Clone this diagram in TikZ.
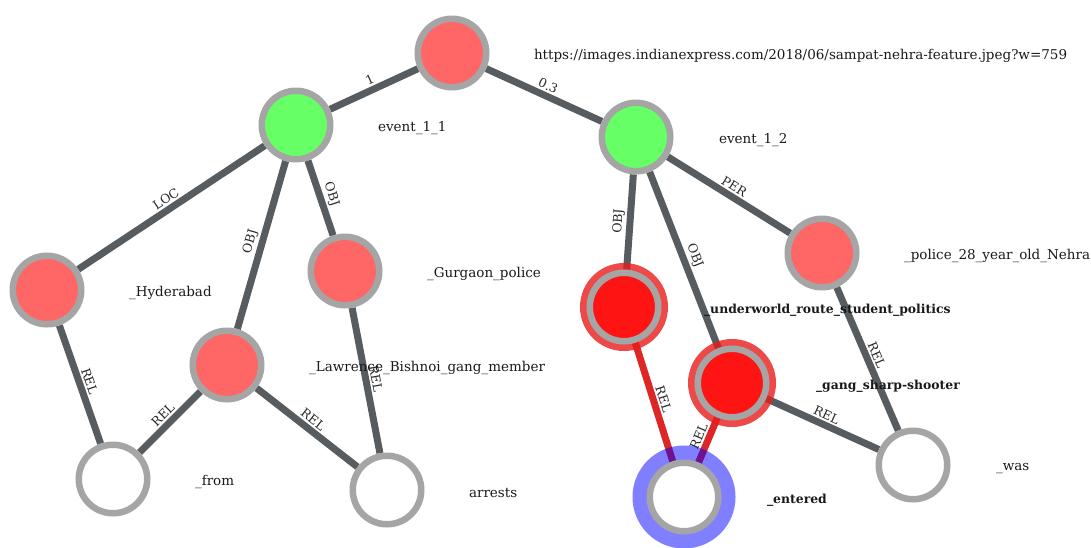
\documentclass[tikz,border=0pt]{standalone}
\usepackage{fontspec}
\setmainfont{DejaVu Serif}
\usepackage{tikz}
\usetikzlibrary{positioning, backgrounds}

\definecolor{edgegray}{HTML}{565C60}
\definecolor{ringgray}{HTML}{A5A5A5}
\definecolor{entpink}{HTML}{FF6666}
\definecolor{evgreen}{HTML}{66FF66}
\definecolor{hotred}{HTML}{FF1414}
\definecolor{ringred}{HTML}{E81C1C}
\definecolor{relred}{HTML}{DD2626}

\tikzset{
	ent/.style={circle, draw=ringgray, line width=6.5pt, minimum size=68.5pt, inner sep=0pt, fill=entpink},
	evt/.style={ent, fill=evgreen},
	tok/.style={ent, fill=white},
	focus/.style={ent, fill=hotred, preaction={draw=ringred, draw opacity=0.8, line width=19.5pt}},
	picked/.style={tok, preaction={draw=blue, draw opacity=0.5, line width=34.5pt}},
	edge/.style={draw=edgegray, line width=7pt},
	reledge/.style={draw=relred, line width=7pt},
	elabel/.style={above, sloped, midway, font={\fontsize{12.5}{13}\selectfont}, text=black!85, inner sep=2pt},
	txt/.style={font={\fontsize{13.5}{15}\selectfont}, text=black!90, yshift=-3pt},
	btxt/.style={txt, font={\fontsize{12.4}{15}\selectfont\bfseries}}
}

\begin{document}
\begin{tikzpicture}[x=1pt, y=-1pt]

	\useasboundingbox (0,0) rectangle (1091,547);

	% nodes
	\node (root) [ent] at (452,53) {};

	\node (event_1_1) [evt] at (296,125) {};

	\node (event_1_2) [evt] at (636,137) {};

	\node (hyderabad) [ent] at (47,290) {};

	\node (gurgaon_police) [ent] at (345,271) {};

	\node (lawrence) [ent] at (227,365) {};

	\node (from) [tok] at (113,479) {};

	\node (arrests) [tok] at (387,490) {};

	\node (police_nehra) [ent] at (822,253) {};

	\node (underworld) [focus] at (624,307) {};

	\node (sharp_shooter) [focus] at (732,383) {};

	\node (entered) [picked] at (684,497) {};

	\node (was) [tok] at (913,465) {};

	% texts
	\node (root_txt) [txt, right=41pt of root] {https://images.indianexpress.com/2018/06/sampat-nehra-feature.jpeg?w=759};

	\node (event_1_1_txt) [txt, right=41pt of event_1_1] {event\_1\_1};

	\node (event_1_2_txt) [txt, right=42pt of event_1_2] {event\_1\_2};

	\node (hyderabad_txt) [txt, right=41pt of hyderabad] {\_Hyderabad};

	\node (gurgaon_police_txt) [txt, right=41pt of gurgaon_police] {\_Gurgaon\_police};

	\node (lawrence_txt) [txt, right=41pt of lawrence] {\_Lawrence\_Bishnoi\_gang\_member};

	\node (from_txt) [txt, right=41pt of from] {\_from};

	\node (arrests_txt) [txt, right=41pt of arrests] {arrests};

	\node (police_nehra_txt) [txt, right=41pt of police_nehra] {\_police\_28\_year\_old\_Nehra};

	\node (underworld_txt) [btxt, right=39pt of underworld] {\_underworld\_route\_student\_politics};

	\node (sharp_shooter_txt) [btxt, right=43pt of sharp_shooter] {\_gang\_sharp-shooter};

	\node (entered_txt) [btxt, right=42pt of entered] {\_entered};

	\node (was_txt) [txt, right=42pt of was] {\_was};

	% edges
	\begin{scope}[on background layer]

	\draw[edge] (event_1_1) -- node[elabel] {1} (root);

	\draw[edge] (root) -- node[elabel] {0.3} (event_1_2);

	\draw[edge] (hyderabad) -- node[elabel] {LOC} (event_1_1);

	\draw[edge] (event_1_1) -- node[elabel] {OBJ} (lawrence);

	\draw[edge] (event_1_1) -- node[elabel] {OBJ} (gurgaon_police);

	\draw[edge] (event_1_2) -- node[elabel] {OBJ} (underworld);

	\draw[edge] (event_1_2) -- node[elabel] {OBJ} (sharp_shooter);

	\draw[edge] (event_1_2) -- node[elabel] {PER} (police_nehra);

	\draw[edge] (hyderabad) -- node[elabel] {REL} (from);

	\draw[edge] (lawrence) -- node[elabel] {REL} (from);

	\draw[edge] (lawrence) -- node[elabel] {REL} (arrests);

	\draw[edge] (gurgaon_police) -- node[elabel] {REL} (arrests);

	\draw[edge] (police_nehra) -- node[elabel] {REL} (was);

	\draw[edge] (sharp_shooter) -- node[elabel] {REL} (was);

	\draw[reledge] (underworld) -- node[elabel] {REL} (entered);

	\draw[reledge] (sharp_shooter) -- node[elabel] {REL} (entered);

	\end{scope}

\end{tikzpicture}
\end{document}
